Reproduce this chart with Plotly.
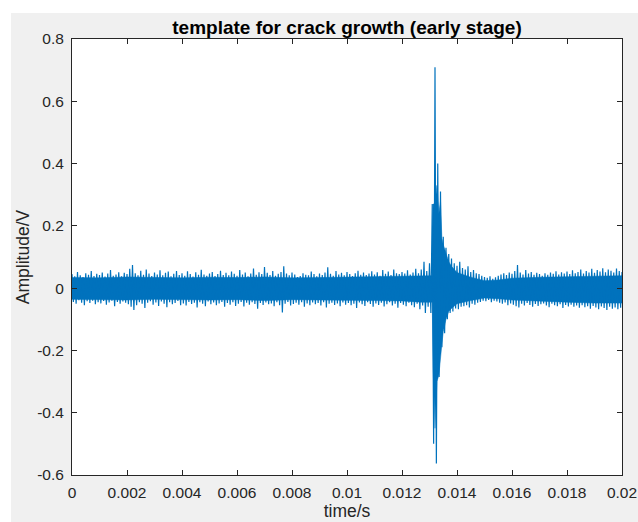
import plotly.graph_objects as go

bin_width = 0.0001  # s
upper = [
    0.045, 0.038, 0.052, 0.041, 0.036, 0.048, 0.043, 0.055, 0.039, 0.046,
    0.042, 0.050, 0.037, 0.047, 0.058, 0.040, 0.044, 0.051, 0.038, 0.049,
    0.045, 0.062, 0.074, 0.048, 0.041, 0.056, 0.043, 0.060, 0.047, 0.039,
    0.050, 0.044, 0.057, 0.041, 0.049, 0.053, 0.038, 0.046, 0.055, 0.042,
    0.048, 0.040, 0.054, 0.045, 0.037, 0.051, 0.043, 0.059, 0.044, 0.040,
    0.047, 0.052, 0.039, 0.045, 0.056, 0.042, 0.049, 0.041, 0.053, 0.046,
    0.040, 0.058, 0.044, 0.050, 0.038, 0.047, 0.063, 0.043, 0.051, 0.045,
    0.068, 0.049, 0.042, 0.055, 0.040, 0.046, 0.052, 0.070, 0.047, 0.041,
    0.050, 0.044, 0.036, 0.039, 0.048, 0.043, 0.041, 0.053, 0.045, 0.038,
    0.047, 0.042, 0.050, 0.067, 0.046, 0.040, 0.055, 0.044, 0.049, 0.041,
    0.052, 0.045, 0.039, 0.048, 0.056, 0.043, 0.050, 0.042, 0.047, 0.054,
    0.044, 0.051, 0.040, 0.058, 0.046, 0.053, 0.042, 0.060, 0.048, 0.045,
    0.052, 0.047, 0.057, 0.044, 0.050, 0.062, 0.048, 0.060, 0.085, 0.055,
    0.080, 0.270, 0.709, 0.400, 0.310, 0.165, 0.130, 0.110, 0.095, 0.080,
    0.072, 0.085, 0.065, 0.060, 0.070, 0.052, 0.058, 0.048, 0.045, 0.040,
    0.036, 0.033, 0.038, 0.030, 0.035, 0.040, 0.044, 0.048, 0.042, 0.050,
    0.046, 0.055, 0.074, 0.050, 0.044, 0.058, 0.047, 0.052, 0.043, 0.049,
    0.045, 0.040, 0.048, 0.043, 0.050, 0.046, 0.054, 0.044, 0.051, 0.047,
    0.053, 0.045, 0.057, 0.048, 0.052, 0.060, 0.047, 0.055, 0.050, 0.062,
    0.049, 0.058, 0.053, 0.064, 0.051, 0.060, 0.056, 0.050, 0.063, 0.055,
    0.052,
]
lower = [
    -0.044, -0.050, -0.039, -0.047, -0.055, -0.042, -0.048, -0.040, -0.052, -0.045,
    -0.049, -0.041, -0.053, -0.046, -0.040, -0.058, -0.044, -0.050, -0.043, -0.047,
    -0.052, -0.060, -0.070, -0.055, -0.045, -0.050, -0.064, -0.047, -0.042, -0.053,
    -0.046, -0.057, -0.043, -0.050, -0.061, -0.045, -0.052, -0.048, -0.041, -0.055,
    -0.049, -0.056, -0.044, -0.051, -0.047, -0.062, -0.045, -0.050, -0.058, -0.043,
    -0.052, -0.046, -0.055, -0.049, -0.044, -0.060, -0.048, -0.053, -0.045, -0.057,
    -0.050, -0.044, -0.059, -0.047, -0.053, -0.045, -0.051, -0.066, -0.048, -0.054,
    -0.046, -0.052, -0.049, -0.058, -0.045, -0.055, -0.078, -0.050, -0.044, -0.056,
    -0.051, -0.047, -0.053, -0.045, -0.060, -0.049, -0.055, -0.046, -0.052, -0.048,
    -0.056, -0.045, -0.062, -0.050, -0.047, -0.054, -0.049, -0.058, -0.046, -0.053,
    -0.048, -0.055, -0.050, -0.064, -0.046, -0.052, -0.057, -0.045, -0.051, -0.060,
    -0.049, -0.054, -0.047, -0.059, -0.052, -0.045, -0.056, -0.050, -0.063, -0.048,
    -0.053, -0.058, -0.047, -0.055, -0.061, -0.050, -0.068, -0.056, -0.080, -0.060,
    -0.080, -0.500, -0.563, -0.285, -0.190, -0.145, -0.100, -0.080, -0.075, -0.065,
    -0.068, -0.060, -0.058, -0.055, -0.062, -0.050, -0.053, -0.047, -0.044, -0.040,
    -0.042, -0.038, -0.045, -0.040, -0.043, -0.047, -0.050, -0.046, -0.055, -0.049,
    -0.053, -0.058, -0.062, -0.050, -0.056, -0.048, -0.054, -0.060, -0.051, -0.057,
    -0.052, -0.049, -0.056, -0.061, -0.050, -0.055, -0.058, -0.052, -0.064, -0.054,
    -0.059, -0.053, -0.060, -0.056, -0.063, -0.055, -0.061, -0.058, -0.066, -0.057,
    -0.062, -0.068, -0.059, -0.064, -0.070, -0.060, -0.066, -0.062, -0.068, -0.063,
]

# dense (solid-looking) core of the trace
core_t = [0, 0.001, 0.002, 0.003, 0.004, 0.005, 0.006, 0.007, 0.008, 0.009,
          0.010, 0.011, 0.012, 0.0127, 0.0131, 0.01313, 0.0132, 0.01327, 0.01334,
          0.0134, 0.01345, 0.0135, 0.0136, 0.0137, 0.0138, 0.0140, 0.0145, 0.0150,
          0.0155, 0.016, 0.017, 0.018, 0.019, 0.020]
core_hi = [0.034, 0.033, 0.036, 0.034, 0.033, 0.035, 0.034, 0.036, 0.033, 0.034,
           0.035, 0.036, 0.037, 0.040, 0.040, 0.270, 0.270, 0.330, 0.240,
           0.280, 0.160, 0.140, 0.110, 0.085, 0.070, 0.050, 0.035, 0.024,
           0.026, 0.032, 0.035, 0.037, 0.040, 0.040]
core_lo = [-0.036, -0.037, -0.038, -0.036, -0.037, -0.038, -0.037, -0.040, -0.037, -0.038,
           -0.039, -0.040, -0.041, -0.045, -0.045, -0.250, -0.450, -0.300, -0.280,
           -0.220, -0.180, -0.140, -0.100, -0.075, -0.065, -0.050, -0.040, -0.032,
           -0.034, -0.038, -0.042, -0.045, -0.048, -0.048]

x_tickvals = [0, 0.002, 0.004, 0.006, 0.008, 0.01, 0.012, 0.014, 0.016, 0.018, 0.02]
x_ticktext = ["0", "0.002", "0.004", "0.006", "0.008", "0.01", "0.012", "0.014", "0.016", "0.018", "0.02"]
y_tickvals = [-0.6, -0.4, -0.2, 0, 0.2, 0.4, 0.6, 0.8]
y_ticktext = ["-0.6", "-0.4", "-0.2", "0", "0.2", "0.4", "0.6", "0.8"]

line_col = "#0072BD"

# interleave max/min of each bin into one trace (min-max decimated waveform)
t, v = [], []
for k in range(len(lower)):
    t.append(k * bin_width)
    v.append(upper[k])
    t.append(k * bin_width + bin_width / 2)
    v.append(lower[k])
t.append(len(lower) * bin_width)
v.append(upper[len(lower)])

fig = go.Figure()
fig.add_trace(go.Scatter(x=core_t + core_t[::-1], y=core_hi + core_lo[::-1],
                         mode="lines", fill="toself", fillcolor=line_col,
                         line=dict(color=line_col, width=0.5),
                         hoverinfo="skip", showlegend=False))
fig.add_trace(go.Scatter(x=t, y=v, mode="lines",
                         line=dict(color=line_col, width=1.2),
                         hoverinfo="skip", showlegend=False))

axis_col = "#262626"
font_family = "Liberation Sans, Arial, sans-serif"
fig_bg = "#f0f0f0"

fig.update_layout(
    width=648, height=532,
    margin=dict(l=72, r=26, t=39, b=57),
    paper_bgcolor=fig_bg,
    plot_bgcolor="white",
    font=dict(family=font_family, color=axis_col),
    title=dict(text="<b>template for crack growth (early stage)</b>",
               x=0.5, xref="paper", xanchor="center",
               y=1, yref="paper", yanchor="bottom", pad=dict(b=5),
               font=dict(size=19, color="#000000", family=font_family)),
    shapes=[
        dict(type="rect", xref="paper", yref="paper",
             x0=-0.3, x1=1.3, y0=1.0596, y1=1.3,
             fillcolor="white", line=dict(width=0), layer="below"),
        dict(type="rect", xref="paper", yref="paper",
             x0=-0.3, x1=-0.111, y0=-0.3, y1=1.3,
             fillcolor="white", line=dict(width=0), layer="below"),
    ],
)
fig.update_xaxes(range=[0, 0.02], tickvals=x_tickvals, ticktext=x_ticktext,
                 ticks="inside", ticklen=5, tickcolor=axis_col, tickwidth=1,
                 showline=True, linecolor=axis_col, linewidth=1, mirror="ticks",
                 showgrid=False, zeroline=False,
                 tickfont=dict(size=15.5, color=axis_col),
                 ticklabelstandoff=3,
                 title=dict(text="time/s", font=dict(size=17.5, color=axis_col), standoff=5))
fig.update_yaxes(range=[-0.6, 0.8], tickvals=y_tickvals, ticktext=y_ticktext,
                 ticks="inside", ticklen=5, tickcolor=axis_col, tickwidth=1,
                 showline=True, linecolor=axis_col, linewidth=1, mirror="ticks",
                 showgrid=False, zeroline=False,
                 tickfont=dict(size=15.5, color=axis_col),
                 ticklabelstandoff=4,
                 title=dict(text="Amplitude/V", font=dict(size=17.5, color=axis_col), standoff=3))

fig.write_html("out.html")
